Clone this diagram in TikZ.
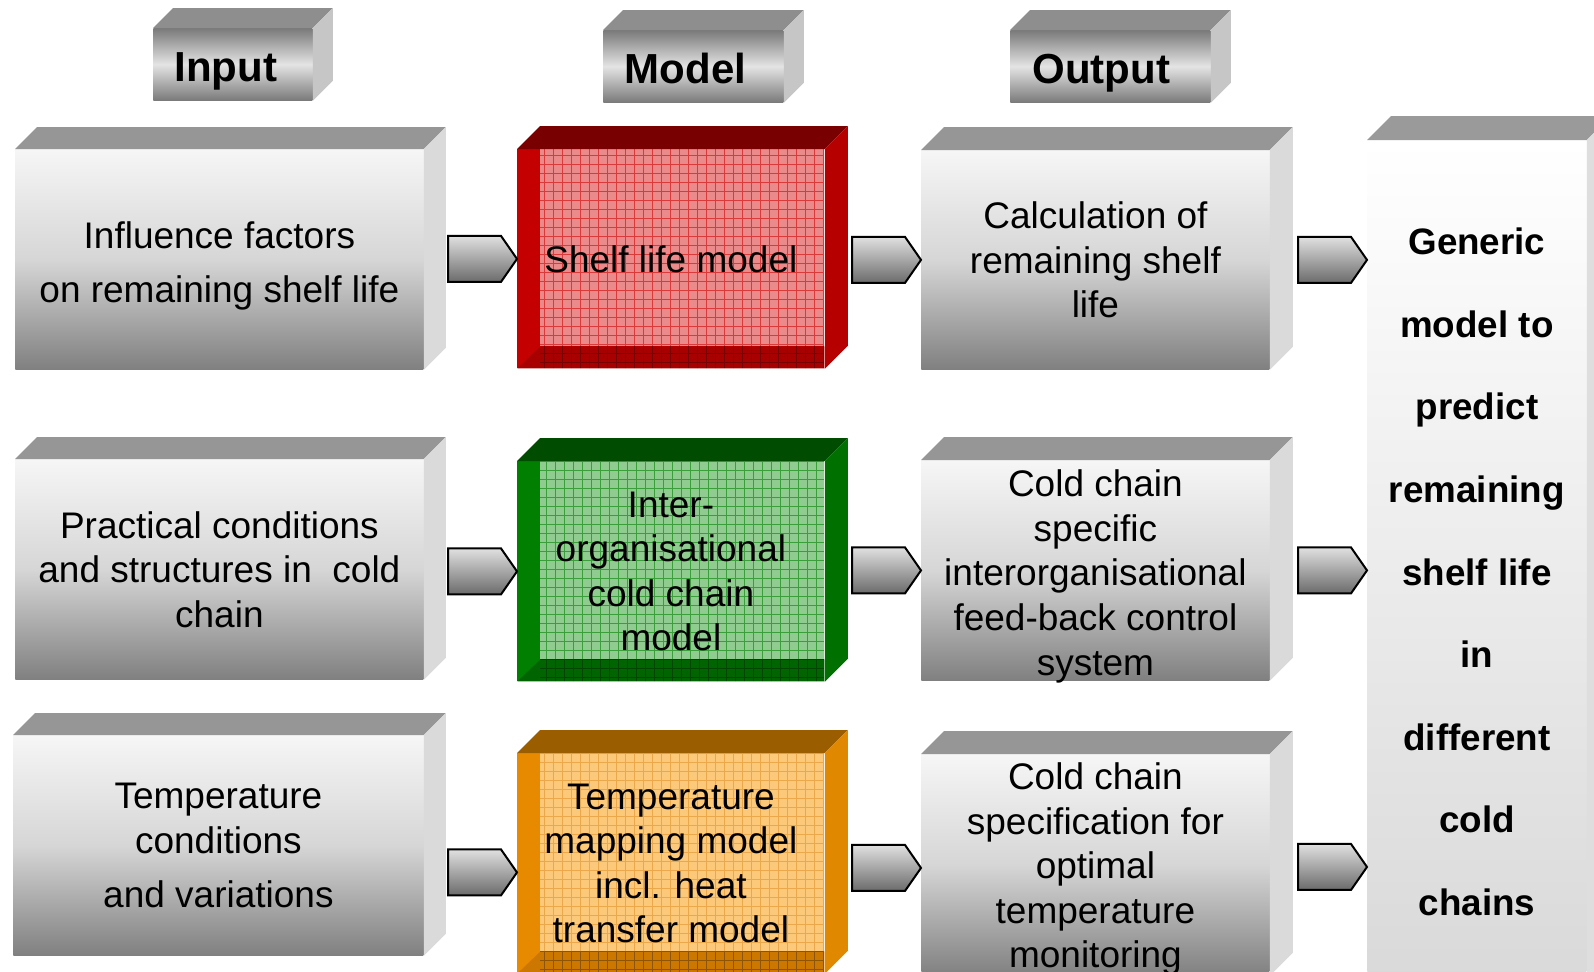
\documentclass[tikz,border=0pt]{standalone}
\usepackage{fontspec}
\setmainfont{Liberation Sans}
\usetikzlibrary{calc}

\definecolor{slabhi}{RGB}{246,246,246}
\definecolor{slabmid}{RGB}{214,214,214}
\definecolor{slablo}{RGB}{128,128,128}
\definecolor{slabtop}{RGB}{150,150,150}
\definecolor{slabside}{RGB}{218,218,218}
\definecolor{headhi}{RGB}{228,228,228}
\definecolor{headlo}{RGB}{122,122,122}
\definecolor{headtop}{RGB}{142,142,142}
\definecolor{headside}{RGB}{198,198,198}
\definecolor{talltop}{RGB}{154,154,154}
\definecolor{tallside}{RGB}{222,222,222}
\definecolor{talllo}{RGB}{216,216,216}
\definecolor{redL}{HTML}{C40000}
\definecolor{redB}{HTML}{A80000}
\definecolor{redI}{HTML}{EB8A8A}
\definecolor{redG}{HTML}{DB3A3A}
\definecolor{redT}{HTML}{780000}
\definecolor{redS}{HTML}{B60000}
\definecolor{greenL}{HTML}{007F00}
\definecolor{greenB}{HTML}{006400}
\definecolor{greenI}{HTML}{90CC90}
\definecolor{greenG}{HTML}{3A9E3A}
\definecolor{greenT}{HTML}{004C00}
\definecolor{greenS}{HTML}{007000}
\definecolor{orangeL}{HTML}{E88A00}
\definecolor{orangeB}{HTML}{CC7800}
\definecolor{orangeI}{HTML}{FCC87A}
\definecolor{orangeG}{HTML}{EAA84A}
\definecolor{orangeT}{HTML}{9A5E00}
\definecolor{orangeS}{HTML}{E08800}

\tikzset{
  boxfont/.style={font=\fontsize{18.5}{22.3}\selectfont},
  slab front/.style={boxfont, align=center, inner sep=0pt,
    top color=slabhi, bottom color=slablo, middle color=slabmid},
  slab top/.style={fill=slabtop},
  slab side/.style={fill=slabside},
  head front/.style={font=\bfseries\fontsize{21}{25}\selectfont, inner sep=0pt,
    text height=17pt, text depth=0pt,
    top color=headlo, bottom color=headlo, middle color=headhi},
  head top/.style={fill=headtop},
  head side/.style={fill=headside},
  tall front/.style={font=\bfseries\fontsize{18.4}{41.3}\selectfont, align=center,
    inner sep=0pt, top color=white, bottom color=talllo},
  tall top/.style={fill=talltop},
  tall side/.style={fill=tallside},
  mfront/.style n args={4}{boxfont, align=center, inner sep=0pt, fill=#1,
    path picture={
      \fill[#2] (path picture bounding box.south west) -- (path picture bounding box.south east)
        -- ([yshift=11pt]path picture bounding box.south east)
        -- ([shift={(11.5pt,11pt)}]path picture bounding box.south west) -- cycle;
      \draw[#2!70!black, line width=0.4pt, step=4.5pt]
        ([xshift=11.5pt]path picture bounding box.south west) grid
        ([yshift=11pt]path picture bounding box.south east);
      \fill[#3] ([shift={(11.5pt,11pt)}]path picture bounding box.south west) rectangle
        (path picture bounding box.north east);
      \draw[#4, line width=0.4pt, step=4.5pt]
        ([shift={(11.5pt,11pt)}]path picture bounding box.south west) grid
        (path picture bounding box.north east);
    }},
  red front/.style={mfront={redL}{redB}{redI}{redG}},
  red top/.style={fill=redT},
  red side/.style={fill=redS},
  green front/.style={mfront={greenL}{greenB}{greenI}{greenG}},
  green top/.style={fill=greenT},
  green side/.style={fill=greenS},
  orange front/.style={mfront={orangeL}{orangeB}{orangeI}{orangeG}},
  orange top/.style={fill=orangeT},
  orange side/.style={fill=orangeS},
  block arrow/.style={draw=black, line width=1pt, line join=miter,
    top color=white!88!black, bottom color=black!58},
}

% #1 kind, #2 name, #3 north west corner, #4 size, #5 depth, #6 text
\newcommand\cube[6]{%
  \node[#1 front, #4, anchor=north west] (#2) at #3 {#6};
  \fill[#1 top] (#2.north west) -- ++(#5,-#5) -- ($(#2.north east)+(#5,-#5)$) -- (#2.north east) -- cycle;
  \fill[#1 side] (#2.north east) -- ++(#5,-#5) -- ($(#2.south east)+(#5,-#5)$) -- (#2.south east) -- cycle;
}
% tip of the arrow
\newcommand\blockarrow[1]{%
  \draw[block arrow] #1 -- ++(-16,-23) -- ++(-53,0) -- ++(0,46) -- ++(53,0) -- cycle;
}

\begin{document}
\begin{tikzpicture}[x=0.5pt,y=-0.5pt]
  \clip (0,0) rectangle (1594,971);

  % headings
  \cube{head}{in}{(153,28)}{minimum width=79.5pt, minimum height=36pt}{20}{Input\kern7pt}
  \cube{head}{mod}{(603,30)}{minimum width=90pt, minimum height=36pt}{20}{Model\kern8pt}
  \cube{head}{out}{(1010,30)}{minimum width=100pt, minimum height=36pt}{20}{Output\kern9pt}

  % input
  \cube{slab}{i1}{(15,149)}{minimum width=204pt, minimum height=110pt}{22}{\rule{0pt}{19.5pt}Influence factors\\[4.7pt] on remaining shelf life}
  \cube{slab}{i2}{(15,459)}{minimum width=204pt, minimum height=110pt}{22}{Practical conditions\\ and structures in\ \ cold\\ chain}
  \cube{slab}{i3}{(13,735)}{minimum width=205pt, minimum height=110pt}{22}{Temperature\\ conditions\\[4.7pt] and variations}

  % model
  \cube{red}{m1}{(517,149)}{minimum width=153.5pt, minimum height=109.5pt}{23}{Shelf life model}
  \cube{green}{m2}{(517,461)}{minimum width=153.5pt, minimum height=110pt}{23}{Inter-\\ organisational\\ cold chain\\ model}
  \cube{orange}{m3}{(517,753)}{minimum width=153.5pt, minimum height=110pt}{23}{Temperature\\ mapping model\\ incl. heat\\ transfer model}

  % output
  \cube{slab}{o1}{(921,150)}{minimum width=174pt, minimum height=109.5pt}{23}{Calculation of\\ remaining shelf\\ life}
  \cube{slab}{o2}{(921,460)}{minimum width=174pt, minimum height=110pt, text depth=0pt}{23}{\rule{0pt}{15.5pt}Cold chain\\ specific\\ interorganisational\\ feed-back control\\ system}
  \cube{slab}{o3}{(921,754)}{minimum width=174pt, minimum height=110pt}{23}{\rule{0pt}{17.5pt}Cold chain\\ specification for\\ optimal\\ temperature\\ monitoring}

  % result
  \cube{tall}{res}{(1367,140)}{minimum width=109.5pt, minimum height=431.5pt}{24}{Generic\\ model to\\ predict\\ remaining\\ shelf life\\ in\\ different\\ cold\\ chains}

  % arrows
  \blockarrow{(m1.west)}
  \blockarrow{(m2.west)}
  \blockarrow{([yshift=-4.5pt]m3.west)}
  \blockarrow{(o1.west)}
  \blockarrow{(o2.west)}
  \blockarrow{([yshift=-1.5pt]o3.west)}
  \blockarrow{(o1 -| res.west)}
  \blockarrow{(o2 -| res.west)}
  \blockarrow{([yshift=-1pt]o3 -| res.west)}
\end{tikzpicture}
\end{document}
